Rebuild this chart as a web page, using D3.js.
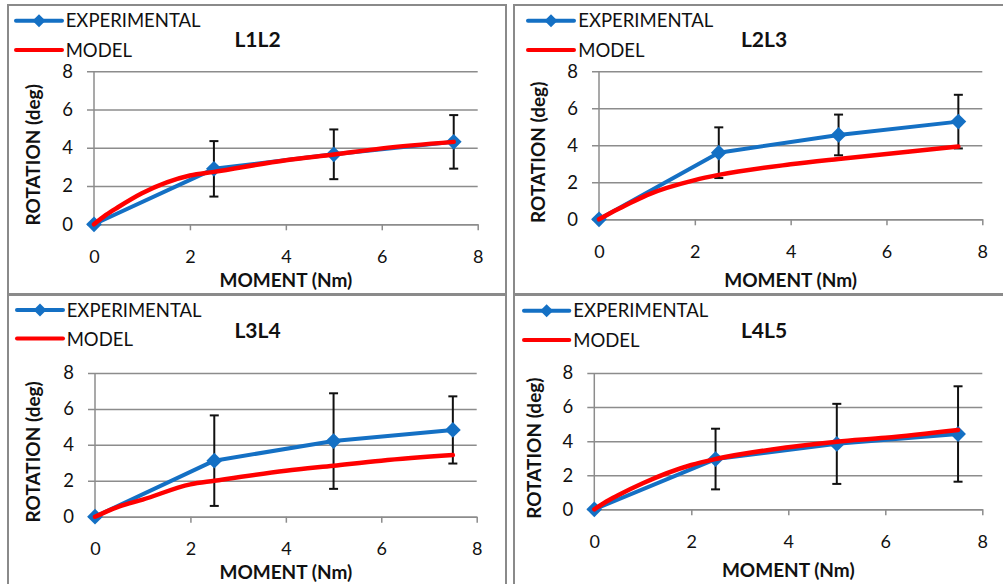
<!DOCTYPE html>
<html>
<head>
<meta charset="utf-8">
<script src="https://cdn.jsdelivr.net/npm/d3@7"></script>
<style>
  html, body { margin: 0; padding: 0; background: #fff; }
  svg { display: block; font-family: Lato, "Open Sans", sans-serif; }
</style>
</head>
<body>
<svg id="chart" width="1003" height="584"></svg>
<script>
// Applied moment (Nm) for the measured points
const moments = [0, 2.5, 5, 7.5];

// Measured rotations (deg) and their standard deviations
const expL1L2 = [0, 2.9, 3.66, 4.31];
const errL1L2 = [0, 1.45, 1.3, 1.4];
const expL2L3 = [0, 3.6, 4.56, 5.28];
const errL2L3 = [0, 1.37, 1.1, 1.45];
const expL3L4 = [0, 3.12, 4.21, 4.83];
const errL3L4 = [0, 2.52, 2.66, 1.87];
const expL4L5 = [0, 2.95, 3.84, 4.42];
const errL4L5 = [0, 1.78, 2.35, 2.8];

// Model prediction, sampled along the moment range
const modelMoments = [0, 0.25, 0.5, 1, 2, 2.5, 4, 5, 6, 7.5];
const modelL1L2 = [0, 0.49, 0.89, 1.62, 2.55, 2.74, 3.35, 3.65, 3.97, 4.31];
const modelL2L3 = [0, 0.36, 0.68, 1.31, 2.12, 2.4, 2.97, 3.26, 3.53, 3.93];
const modelL3L4 = [0, 0.3, 0.56, 0.95, 1.8, 2.0, 2.56, 2.84, 3.12, 3.43];
const modelL4L5 = [0, 0.46, 0.84, 1.53, 2.6, 2.95, 3.64, 3.97, 4.2, 4.66];

const levelNames = ["L1L2", "L2L3", "L3L4", "L4L5"];
const xTicks = [0, 2, 4, 6, 8];
const yTicks = [0, 2, 4, 6, 8];
const legendLabels = ["EXPERIMENTAL", "MODEL"];
const xTitle = "MOMENT (Nm)";
const yTitle = "ROTATION (deg)";

const experimental = [expL1L2, expL2L3, expL3L4, expL4L5];
const errors = [errL1L2, errL2L3, errL3L4, errL4L5];
const models = [modelL1L2, modelL2L3, modelL3L4, modelL4L5];

// Panel geometry: outer frame and plot area for each of the four charts
const layout = [
  { frame: [8, 5, 506, 294],      plot: [94, 71.3, 477.7, 224.3],   title: [257.5, 46.7], legend: [16, 62, 20.7, 50, 65.7],      yTitleX: 40,    xTitleY: 286.5 },
  { frame: [514, 5, 1010, 294],   plot: [599, 71.3, 982.3, 219.3],  title: [764, 46.7],   legend: [528, 574, 20.7, 50, 578.3],   yTitleX: 545,   xTitleY: 286.7 },
  { frame: [8, 295, 506, 600],    plot: [95, 373, 476.7, 516.7],    title: [257.5, 338.3], legend: [17, 63, 310, 338.5, 66.7],   yTitleX: 40,    xTitleY: 578.5 },
  { frame: [514, 295, 1010, 600], plot: [594.3, 373, 982.3, 509.3], title: [764, 338.3],  legend: [524, 569.3, 310.7, 340, 573.3], yTitleX: 540.7, xTitleY: 577 }
];

const BLUE = "#1470c4";
const RED = "#ff0000";
const GRID = "#8c8c8c";
const FRAME = "#8a8a8a";

const svg = d3.select("#chart");

const diamond = (size) => d3.symbol(d3.symbolSquare, size);

levelNames.forEach((name, i) => {
  const L = layout[i];
  const [pl, pt, pr, pb] = L.plot;
  const g = svg.append("g");

  // frame
  g.append("rect")
    .attr("x", L.frame[0]).attr("y", L.frame[1])
    .attr("width", L.frame[2] - L.frame[0]).attr("height", L.frame[3] - L.frame[1])
    .attr("fill", "none").attr("stroke", FRAME).attr("stroke-width", 2);

  const x = d3.scaleLinear().domain([0, 8]).range([pl, pr]);
  const y = d3.scaleLinear().domain([0, 8]).range([pb, pt]);

  // horizontal gridlines + y tick labels
  const yAxis = d3.axisLeft(y).tickValues(yTicks).tickSize(pr - pl + 7).tickPadding(14).tickFormat(d3.format("d"));
  const yg = g.append("g").attr("transform", `translate(${pr},0)`).call(yAxis);
  yg.select(".domain").remove();
  yg.selectAll(".tick line").attr("stroke", GRID).attr("stroke-width", 1.5);
  yg.selectAll(".tick text").attr("font-size", 18.5).attr("fill", "#111").attr("font-family", "Lato, sans-serif");

  // x axis with tick marks below
  const xAxis = d3.axisBottom(x).tickValues(xTicks).tickSize(6).tickSizeOuter(0).tickPadding(20).tickFormat(d3.format("d"));
  const xg = g.append("g").attr("transform", `translate(0,${pb})`).call(xAxis);
  xg.select(".domain").attr("stroke", GRID).attr("stroke-width", 1.5);
  xg.selectAll(".tick line").attr("stroke", GRID).attr("stroke-width", 1.5);
  xg.selectAll(".tick text").attr("font-size", 18).attr("fill", "#111").attr("font-family", "Lato, sans-serif");

  // vertical axis line
  g.append("line")
    .attr("x1", x(0)).attr("x2", x(0)).attr("y1", y(8)).attr("y2", y(0))
    .attr("stroke", GRID).attr("stroke-width", 1.5);

  // axis titles
  g.append("text")
    .attr("x", (pl + pr) / 2).attr("y", L.xTitleY)
    .attr("text-anchor", "middle").attr("font-weight", "bold").attr("font-size", 19)
    .attr("fill", "#111").text(xTitle);
  g.append("text")
    .attr("transform", `translate(${L.yTitleX},${(pt + pb) / 2 + 7}) rotate(-90)`)
    .attr("text-anchor", "middle").attr("font-weight", "bold").attr("font-size", 19)
    .attr("fill", "#111").text(yTitle);

  // panel title
  g.append("text")
    .attr("x", L.title[0]).attr("y", L.title[1])
    .attr("text-anchor", "middle").attr("font-weight", "bold").attr("font-size", 21)
    .attr("fill", "#111").text(name);

  const pts = moments.map((m, k) => ({ m, v: experimental[i][k], e: errors[i][k] }));

  // error bars
  const eb = g.append("g").attr("stroke", "#111").attr("stroke-width", 2);
  pts.filter(d => d.e > 0).forEach(d => {
    eb.append("line").attr("x1", x(d.m)).attr("x2", x(d.m)).attr("y1", y(d.v - d.e)).attr("y2", y(d.v + d.e));
    eb.append("line").attr("x1", x(d.m) - 4.5).attr("x2", x(d.m) + 4.5).attr("y1", y(d.v + d.e)).attr("y2", y(d.v + d.e));
    eb.append("line").attr("x1", x(d.m) - 4.5).attr("x2", x(d.m) + 4.5).attr("y1", y(d.v - d.e)).attr("y2", y(d.v - d.e));
  });

  // experimental series
  g.append("path")
    .datum(pts)
    .attr("d", d3.line().x(d => x(d.m)).y(d => y(d.v)))
    .attr("fill", "none").attr("stroke", BLUE).attr("stroke-width", 4).attr("stroke-linejoin", "round");
  g.selectAll(null).data(pts).enter().append("path")
    .attr("d", diamond(125))
    .attr("transform", d => `translate(${x(d.m)},${y(d.v)}) rotate(45)`)
    .attr("fill", BLUE);

  // model curve
  const modelPts = modelMoments.map((m, k) => ({ m, v: models[i][k] }));
  g.append("path")
    .datum(modelPts)
    .attr("d", d3.line().curve(d3.curveMonotoneX).x(d => x(d.m)).y(d => y(d.v)))
    .attr("fill", "none").attr("stroke", RED).attr("stroke-width", 4.5).attr("stroke-linecap", "round");

  // legend
  const [lx1, lx2, ly1, ly2, tx] = L.legend;
  g.append("line").attr("x1", lx1).attr("x2", lx2).attr("y1", ly1).attr("y2", ly1)
    .attr("stroke", BLUE).attr("stroke-width", 4).attr("stroke-linecap", "round");
  g.append("path").attr("d", diamond(85))
    .attr("transform", `translate(${(lx1 + lx2) / 2},${ly1}) rotate(45)`).attr("fill", BLUE);
  g.append("line").attr("x1", lx1).attr("x2", lx2).attr("y1", ly2).attr("y2", ly2)
    .attr("stroke", RED).attr("stroke-width", 4).attr("stroke-linecap", "round");
  g.append("text").attr("x", tx).attr("y", ly1 + 6.6).attr("font-size", 18.5).attr("fill", "#111").text(legendLabels[0]);
  g.append("text").attr("x", tx).attr("y", ly2 + 7).attr("font-size", 18.5).attr("fill", "#111").text(legendLabels[1]);
});
</script>
</body>
</html>
